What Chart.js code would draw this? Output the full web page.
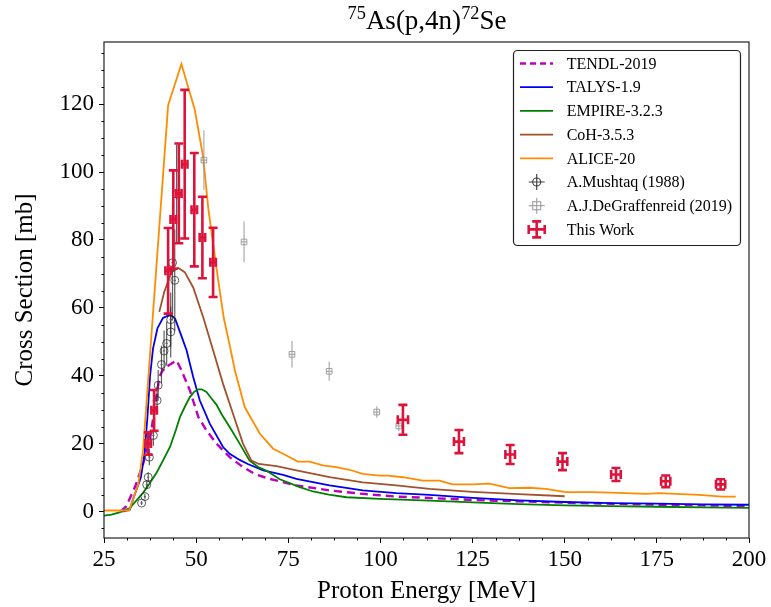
<!DOCTYPE html>
<html>
<head>
<meta charset="utf-8">
<script src="https://cdn.jsdelivr.net/npm/chart.js@4.4.1/dist/chart.umd.min.js"></script>
<style>
  html, body { margin:0; padding:0; background:#fff; }
  #wrap { position:relative; width:771px; height:607px; }
  #title { position:absolute; left:104px; width:646px; top:2px; text-align:center;
           font-family:'Liberation Serif','Times New Roman',serif; font-size:27px; color:#000; line-height:36px; }
  #title sup { font-size:0.68em; vertical-align:0; position:relative; top:-0.55em; }
  canvas { position:absolute; left:0; top:0; }
</style>
</head>
<body>
<div id="wrap">
  <canvas id="c" width="771" height="607"></canvas>
  <div id="title"><sup>75</sup>As(p,4n)<sup>72</sup>Se</div>
</div>
<script>
// ---------------- DATA ----------------
const seriesNames = ['TENDL-2019','TALYS-1.9','EMPIRE-3.2.3','CoH-3.5.3','ALICE-20',
                     'A.Mushtaq (1988)','A.J.DeGraffenreid (2019)','This Work'];
const xTicks = [25,50,75,100,125,150,175,200];
const yTicks = [0,20,40,60,80,100,120];

const tendlE = [29.5,31,33.4,35.6,37.5,38.8,40,41.1,42.5,44.7,46,48.3,50.6,52.8,55.5,59.1,62.7,66,70,77.2,86.2,95.2,104.3,113.3,125,137.5,150,162.5,175,187.5,200];
const tendlV = [0,1.5,7.2,14,21.5,30.7,39.6,42,43,44.5,41.6,35.7,27.8,23.9,20,16,13.1,11,9.6,7.7,6.2,5.2,4.4,4.0,3.4,3.0,2.6,2.3,2.0,1.8,1.6];

const talysE = [30,32,33,35,36,36.8,37.5,38.3,39.5,41,43,44.3,45.6,47.4,49.2,51,53.7,57.3,59.1,61.8,64,68.2,73.6,77.2,86.2,95.2,104.3,113.3,125,137.5,150,162.5,175,187.5,200];
const talysV = [0,0.5,4,10,17,28,40,48,54,57,58,56.8,52.9,47.5,39.6,32.7,25.9,19,17,15.2,14,12.1,10.8,9.6,7.7,6.2,5.4,4.9,4.0,3.3,2.8,2.5,2.3,2.1,2.0];

const empireE = [25,27,29,30.5,32,34,35.6,37.5,39.3,41,42.9,44.5,45.6,47,48.3,49.5,50.6,51.5,52.8,54,55.5,57,59.1,61.8,64.5,67,69,72.7,78.1,81.7,86,90.8,99.8,113.3,125,137.5,150,162.5,175,187.5,200];
const empireV = [-1.2,-0.9,-0.3,0.3,1,3.5,5.5,8.5,11.5,15,19,24,27.8,31,33.7,35.3,36,36,35.2,33.5,31.5,28.5,24.9,20,15,13,12.1,9.5,7.2,5.9,5,4.2,3.7,3.2,2.7,2.2,1.8,1.6,1.4,1.2,1.1];

const cohE = [40,41.3,43.3,45.1,46.9,49.2,51.9,54.6,57.3,60,62.7,65,67,71.8,77.2,86.2,95.2,104.3,113.3,125,137.5,150];
const cohV = [58.8,64.5,70.5,71.8,70.5,66,57.3,47.5,37.6,28.8,20,15,14,13.4,12.1,10.1,8.6,7.7,6.7,5.8,5.1,4.5];

const aliceE = [25,31.8,34.3,35.6,42.4,46,49.6,51.9,53.3,54.6,56,57.5,59.1,60.5,63.2,67.3,70.9,74.5,77.6,80.8,84.4,88,91.6,95.2,99.8,102,106.1,111.5,116,119.6,125,129.6,135,140.4,144.9,150.3,157.6,164.8,172,175.6,186.4,192.8,196.4];
const aliceV = [0.3,0.3,8,18,119.7,131.8,118.5,104.5,89.2,78.9,68,57,49,41.6,30.7,22.9,18.5,16.5,14.7,14.7,13.6,13.1,12.3,11.1,10.6,10.6,10.1,9.1,9.1,8.0,8.0,8.2,6.9,7.0,6.7,5.7,5.7,5.5,5.2,5.4,4.9,4.4,4.4];

const mushE  = [35.2,36.1,36.6,37.0,37.3,38.4,39.4,39.7,40.6,41.3,42.0,43.1,43.1,43.6,44.2,44.7];
const mushV  = [2.5,4.4,7.9,10.1,16.0,22.4,32.7,37.2,43.3,47.3,49.5,52.9,56.5,73.3,68.1,93.5];
const mushDV = [0.6,0.8,1.2,1.5,2.4,3.0,4.0,4.5,5.5,6.0,6.5,7.5,8,17,15,14.5];
const mushDE = [0.3,0.3,0.3,0.3,0.3,0.3,0.3,0.3,0.3,0.3,0.3,0.3,0.3,0.3,0.3,0.3];

const degE  = [52.1,63.0,76.0,86.1,99.0,105.0];
const degV  = [103.5,79.4,46.3,41.3,29.3,25.2];
const degDV = [8.8,6,3.9,2.8,1.7,1.5];
const degDE = [0.8,0.8,0.8,0.8,0.8,0.8];

const workE  = [37.0,38.6,42.4,43.8,45.3,46.9,49.5,51.7,54.6,106.1,121.3,135.2,149.4,163.9,177.4,192.3];
const workV  = [20.0,29.8,70.9,86.0,93.7,102.3,88.9,80.7,73.4,27.0,20.6,16.8,14.7,10.9,8.9,8.0];
const workDV = [3.3,6.0,12.6,14.5,14.7,21.9,16.7,12.0,10.2,4.4,3.4,2.8,2.5,1.9,1.7,1.5];
const workDE = [0.75,0.75,0.75,0.75,0.75,0.75,0.75,0.75,0.75,1.4,1.35,1.3,1.3,1.3,1.25,1.25];

// ---------------- STYLE ----------------
const FONT = "'Liberation Serif','Times New Roman',serif";
const C = { tendl:'#BF00BF', talys:'#0000F0', empire:'#008000', coh:'#A0522D', alice:'#FF8C00',
            mush:'#3a3a3a', deg:'#9a9a9a', work:'#DC143C' };
const pts = (xs, ys) => xs.map((x,i)=>({x:x, y:ys[i]}));

function lineDS(label, xs, ys, color, order, dash) {
  return { type:'line', label, data:pts(xs,ys), borderColor:color, backgroundColor:color,
           borderWidth: dash ? 2.4 : 1.8, borderDash: dash || [], pointRadius:0, tension:0,
           fill:false, order };
}

const datasets = [
  lineDS(seriesNames[0], tendlE, tendlV, C.tendl, 6, [8,5]),
  lineDS(seriesNames[1], talysE, talysV, C.talys, 5),
  lineDS(seriesNames[2], empireE, empireV, C.empire, 4),
  lineDS(seriesNames[3], cohE, cohV, C.coh, 3),
  lineDS(seriesNames[4], aliceE, aliceV, C.alice, 2),
  { type:'scatter', label:seriesNames[5], data:pts(mushE,mushV), pointStyle:'circle', pointRadius:4,
    borderColor:'rgba(40,40,40,0.75)', backgroundColor:'rgba(0,0,0,0)', borderWidth:1, order:1 },
  { type:'scatter', label:seriesNames[6], data:pts(degE,degV), pointStyle:'rect', pointRadius:4,
    borderColor:'rgba(140,140,140,0.8)', backgroundColor:'rgba(0,0,0,0)', borderWidth:1, order:1 },
  { type:'scatter', label:seriesNames[7], data:pts(workE,workV), pointRadius:0, order:1,
    borderColor:C.work, backgroundColor:C.work }
];

// error bar plugin
function drawErr(chart, xs, ys, dxs, dys, color, lw, cap) {
  const {ctx, scales:{x, y}} = chart;
  ctx.save();
  ctx.strokeStyle = color; ctx.lineWidth = lw; ctx.lineCap = 'butt';
  const a = chart.chartArea;
  ctx.beginPath(); ctx.rect(a.left, a.top, a.right-a.left, a.bottom-a.top); ctx.clip();
  for (let i=0;i<xs.length;i++){
    const px = x.getPixelForValue(xs[i]), py = y.getPixelForValue(ys[i]);
    const x0 = x.getPixelForValue(xs[i]-dxs[i]), x1 = x.getPixelForValue(xs[i]+dxs[i]);
    const y0 = y.getPixelForValue(ys[i]-dys[i]), y1 = y.getPixelForValue(ys[i]+dys[i]);
    ctx.beginPath();
    ctx.moveTo(px,y0); ctx.lineTo(px,y1);
    ctx.moveTo(x0,py); ctx.lineTo(x1,py);
    if (cap) {
      ctx.moveTo(px-cap,y0); ctx.lineTo(px+cap,y0);
      ctx.moveTo(px-cap,y1); ctx.lineTo(px+cap,y1);
      ctx.moveTo(x0,py-cap); ctx.lineTo(x0,py+cap);
      ctx.moveTo(x1,py-cap); ctx.lineTo(x1,py+cap);
    }
    ctx.stroke();
  }
  ctx.restore();
}

const errPlugin = {
  id:'err',
  afterDatasetsDraw(chart) {
    drawErr(chart, mushE, mushV, mushDE, mushDV, 'rgba(40,40,40,0.75)', 1.2, 0);
    drawErr(chart, degE, degV, degDE, degDV, 'rgba(150,150,150,0.8)', 1.2, 0);
    drawErr(chart, workE, workV, workDE, workDV, C.work, 2.6, 4.5);
  }
};

const framePlugin = {
  id:'frame',
  afterDraw(chart) {
    const {ctx, chartArea:a, scales:{x, y}} = chart;
    ctx.save();
    ctx.strokeStyle = '#222'; ctx.lineWidth = 1.2;
    ctx.strokeRect(a.left, a.top, a.right-a.left, a.bottom-a.top);
    // minor ticks
    ctx.strokeStyle = '#000'; ctx.lineWidth = 1;
    ctx.beginPath();
    for (let i=0;i<xTicks.length-1;i++){
      const st = (xTicks[i+1]-xTicks[i])/4;
      for (let k=1;k<4;k++){
        const px = Math.round(x.getPixelForValue(xTicks[i]+k*st))+0.5;
        ctx.moveTo(px, a.bottom); ctx.lineTo(px, a.bottom+2.5);
      }
    }
    const yst = (yTicks[1]-yTicks[0])/4;
    for (let v = yTicks[0]-4*yst; v <= yTicks[yTicks.length-1]+4*yst; v += yst) {
      if (yTicks.includes(v)) continue;
      if (v < y.min || v > y.max) continue;
      const py = Math.round(y.getPixelForValue(v))+0.5;
      ctx.moveTo(a.left, py); ctx.lineTo(a.left-2.5, py);
    }
    ctx.stroke();

    // legend
    const L = {x:513.5, y:50.5, w:227, h:195, r:4};
    ctx.beginPath();
    ctx.roundRect(L.x, L.y, L.w, L.h, L.r);
    ctx.fillStyle = 'rgba(255,255,255,0.85)'; ctx.fill();
    ctx.strokeStyle = '#222'; ctx.lineWidth = 1.2; ctx.stroke();
    const kinds = [
      {k:'line', c:C.tendl, d:[6,4], w:2.4},
      {k:'line', c:C.talys, w:1.8},
      {k:'line', c:C.empire, w:1.8},
      {k:'line', c:C.coh, w:1.8},
      {k:'line', c:C.alice, w:1.8},
      {k:'mush'}, {k:'deg'}, {k:'work'}
    ];
    ctx.font = "16px " + FONT; ctx.textBaseline = 'middle'; ctx.textAlign = 'left';
    kinds.forEach((e,i)=>{
      const cy = 63.5 + i*23.7;
      const hx0 = 520, hx1 = 553, hc = 536.7;
      ctx.save();
      if (e.k === 'line') {
        ctx.strokeStyle = e.c; ctx.lineWidth = e.w; ctx.setLineDash(e.d || []);
        ctx.beginPath(); ctx.moveTo(hx0, cy); ctx.lineTo(hx1, cy); ctx.stroke();
      } else if (e.k === 'mush') {
        ctx.strokeStyle = 'rgba(40,40,40,0.85)'; ctx.lineWidth = 1.2;
        ctx.beginPath(); ctx.moveTo(hc-8, cy); ctx.lineTo(hc+8, cy);
        ctx.moveTo(hc, cy-8); ctx.lineTo(hc, cy+8); ctx.stroke();
        ctx.beginPath(); ctx.arc(hc, cy, 4, 0, Math.PI*2); ctx.stroke();
      } else if (e.k === 'deg') {
        ctx.strokeStyle = 'rgba(150,150,150,0.85)'; ctx.lineWidth = 1.2;
        ctx.beginPath(); ctx.moveTo(hc-8, cy); ctx.lineTo(hc+8, cy);
        ctx.moveTo(hc, cy-8); ctx.lineTo(hc, cy+8); ctx.stroke();
        ctx.strokeRect(hc-4, cy-4, 8, 8);
      } else {
        ctx.strokeStyle = C.work; ctx.lineWidth = 2.6;
        ctx.beginPath();
        ctx.moveTo(hc-8, cy); ctx.lineTo(hc+8, cy);
        ctx.moveTo(hc, cy-8); ctx.lineTo(hc, cy+8);
        ctx.moveTo(hc-4.5, cy-8); ctx.lineTo(hc+4.5, cy-8);
        ctx.moveTo(hc-4.5, cy+8); ctx.lineTo(hc+4.5, cy+8);
        ctx.moveTo(hc-8, cy-4.5); ctx.lineTo(hc-8, cy+4.5);
        ctx.moveTo(hc+8, cy-4.5); ctx.lineTo(hc+8, cy+4.5);
        ctx.stroke();
      }
      ctx.restore();
      ctx.fillStyle = '#000';
      ctx.fillText(seriesNames[i], 566.7, cy + 1);
    });
    ctx.restore();
  }
};

new Chart(document.getElementById('c'), {
  type:'scatter',
  data:{ datasets },
  plugins:[errPlugin, framePlugin],
  options:{
    responsive:false, animation:false, devicePixelRatio:1,
    layout:{ padding:{ top:42, right:22, left:0, bottom:0 } },
    plugins:{ legend:{display:false}, tooltip:{enabled:false}, title:{display:false} },
    scales:{
      x:{ type:'linear', min:25, max:200,
          afterBuildTicks(s){ s.ticks = xTicks.map(v=>({value:v})); },
          afterFit(s){ s.height = 69; },
          ticks:{ font:{family:FONT, size:23}, color:'#000', padding:3, maxRotation:0, autoSkip:false },
          grid:{ drawOnChartArea:false, drawTicks:true, tickLength:5, color:'#000', lineWidth:1 },
          border:{ display:false },
          title:{ display:true, text:'Proton Energy [MeV]', font:{family:FONT, size:25}, color:'#000',
                  padding:{top:0, bottom:1} } },
      y:{ type:'linear', min:-7.8, max:138.3,
          afterBuildTicks(s){ s.ticks = yTicks.map(v=>({value:v})); },
          afterFit(s){ s.width = 104; },
          ticks:{ font:{family:FONT, size:23}, color:'#000', padding:5, autoSkip:false },
          grid:{ drawOnChartArea:false, drawTicks:true, tickLength:5, color:'#000', lineWidth:1 },
          border:{ display:false },
          title:{ display:true, text:'Cross Section [mb]', font:{family:FONT, size:25}, color:'#000',
                  padding:{top:10, bottom:0} } }
    }
  }
});
</script>
</body>
</html>
